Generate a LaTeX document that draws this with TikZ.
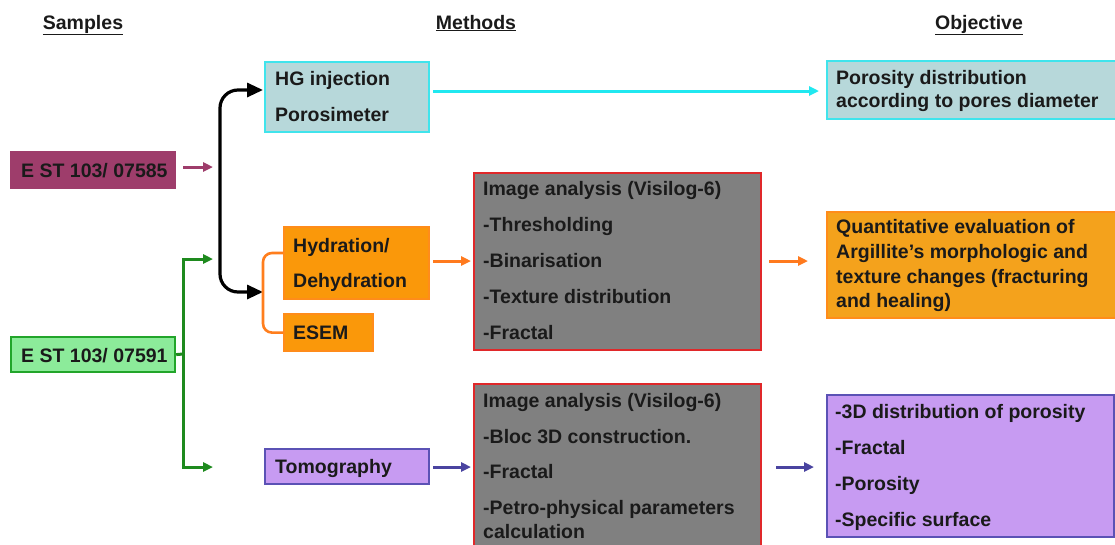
\documentclass[tikz,border=0pt]{standalone}
\usepackage{fontspec}
\setmainfont{Liberation Sans}
\usetikzlibrary{arrows.meta}
\definecolor{maroonF}{HTML}{9E3D6B}
\definecolor{greenF}{HTML}{8CEB9A}
\definecolor{greenD}{HTML}{22A52A}
\definecolor{greenA}{HTML}{1E8A1E}
\definecolor{cyanF}{HTML}{B7D8DA}
\definecolor{cyanD}{HTML}{40E4EC}
\definecolor{cyanA}{HTML}{20E8F0}
\definecolor{orangeF}{HTML}{FA980A}
\definecolor{orangeQ}{HTML}{F4A21C}
\definecolor{orangeD}{HTML}{FF8C1A}
\definecolor{orangeA}{HTML}{FF7A1E}
\definecolor{grayF}{HTML}{808080}
\definecolor{redD}{HTML}{E0282A}
\definecolor{lavF}{HTML}{C79BF2}
\definecolor{lavD}{HTML}{5B52B5}
\definecolor{blueA}{HTML}{4A44A0}
\definecolor{txtC}{HTML}{1A1A1A}
\tikzset{
  box/.style={rectangle, line width=2.2pt, anchor=north west, inner sep=0pt},
  txt/.style={anchor=base west, inner sep=0pt, text=txtC, font=\fontsize{19.5}{22}\selectfont\bfseries},
  hdr/.style={anchor=base, inner sep=0pt, text=txtC, font=\fontsize{19.5}{22}\selectfont\bfseries},
  carr/.style={line width=3pt, -{Triangle[length=10pt,width=9pt]}},
  blk/.style={line width=3.2pt, rounded corners=18pt, {Triangle[length=16pt,width=14pt]}-{Triangle[length=16pt,width=14pt]}},
}
\begin{document}
\begin{tikzpicture}[x=1pt,y=-1pt]
\useasboundingbox (0,0) rectangle (1115,544);
\clip (0,0) rectangle (1115,544);
\fill[white] (0,0) rectangle (1115,544);

% headers
\node[hdr] (hs) at (83,29) {\underline{Samples}};
\node[hdr] (hm) at (476,29) {\underline{Methods}};
\node[hdr] (ho) at (979,29) {\underline{Objective}};

% samples
\node[box, fill=maroonF, draw=maroonF, minimum width=164pt, minimum height=36pt] (est1) at (10,151) {};
\node[txt] (est1t) at (21,177) {E ST 103/ 07585};
\node[box, fill=greenF, draw=greenD, minimum width=164pt, minimum height=35pt] (est2) at (10,336) {};
\node[txt] (est2t) at (21,362) {E ST 103/ 07591};

% methods
\node[box, fill=cyanF, draw=cyanD, minimum width=164pt, minimum height=70pt] (hg) at (264,61) {};
\node[txt] (hg1) at (275,85) {HG injection};
\node[txt] (hg2) at (275,121) {Porosimeter};

\node[box, fill=orangeF, draw=orangeD, minimum width=145pt, minimum height=72pt] (hyd) at (283,226) {};
\node[txt] (hyd1) at (293,252) {Hydration/};
\node[txt] (hyd2) at (293,287) {Dehydration};
\node[box, fill=orangeF, draw=orangeD, minimum width=89pt, minimum height=37pt] (esem) at (283,313) {};
\node[txt] (esemt) at (293,339) {ESEM};

\node[box, fill=lavF, draw=lavD, minimum width=164pt, minimum height=35pt] (tomo) at (264,448) {};
\node[txt] (tomot) at (275,473) {Tomography};

\node[box, fill=grayF, draw=redD, minimum width=287pt, minimum height=177pt] (ia1) at (473,172) {};
\node[txt] (ia1a) at (483,195) {Image analysis (Visilog-6)};
\node[txt] (ia1b) at (483,231.5) {-Thresholding};
\node[txt] (ia1c) at (483,267) {-Binarisation};
\node[txt] (ia1d) at (483,303) {-Texture distribution};
\node[txt] (ia1e) at (483,339) {-Fractal};

\node[box, fill=grayF, draw=redD, minimum width=287pt, minimum height=200pt] (ia2) at (473,383) {};
\node[txt] (ia2a) at (483,407) {Image analysis (Visilog-6)};
\node[txt] (ia2b) at (483,443) {-Bloc 3D construction.};
\node[txt] (ia2c) at (483,478) {-Fractal};
\node[txt] (ia2d) at (483,514) {-Petro-physical parameters};
\node[txt] (ia2e) at (483,538) {calculation};

% objectives
\node[box, fill=cyanF, draw=cyanD, minimum width=300pt, minimum height=58pt] (obj1) at (826,60) {};
\node[txt] (obj1a) at (836,84.5) {Porosity distribution};
\node[txt] (obj1b) at (836,107) {according to pores diameter};

\node[box, fill=orangeQ, draw=orangeD, minimum width=300pt, minimum height=106pt] (obj2) at (826,211) {};
\node[txt] (obj2a) at (836,233) {Quantitative evaluation of};
\node[txt] (obj2b) at (836,258) {Argillite’s morphologic and};
\node[txt] (obj2c) at (836,283) {texture changes (fracturing};
\node[txt] (obj2d) at (836,307) {and healing)};

\node[box, fill=lavF, draw=lavD, minimum width=287pt, minimum height=142pt] (obj3) at (826,394) {};
\node[txt] (obj3a) at (835,418) {-3D distribution of porosity};
\node[txt] (obj3b) at (835,454) {-Fractal};
\node[txt] (obj3c) at (835,490) {-Porosity};
\node[txt] (obj3d) at (835,526.5) {-Specific surface};

% connector coordinates
\coordinate (mA) at (183,167);
\coordinate (mB) at (213,167);
\coordinate (hgin) at (263,90);
\coordinate (bcol) at (220,190);
\coordinate (hydin) at (263,292);
\coordinate (gj) at (183,354);
\coordinate (g1) at (213,259);
\coordinate (g2) at (213,467);
\coordinate (brT) at (283,253);
\coordinate (brM) at (263,290);
\coordinate (cA) at (433,91);
\coordinate (cB) at (819,91);
\coordinate (oA) at (433,261);
\coordinate (oB) at (471,261);
\coordinate (oC) at (769,261);
\coordinate (oD) at (808,261);
\coordinate (bA) at (433,467);
\coordinate (bB) at (471,467);
\coordinate (bC) at (776,467);
\coordinate (bD) at (814,467);

% connectors
\draw[carr, draw=maroonF] (mA) -- (mB);
\draw[blk] (hgin) -| (bcol) |- (hydin);
\draw[line width=3pt, draw=greenA] (est2.east) -- (gj);
\draw[carr, draw=greenA] (gj) |- (g1);
\draw[carr, draw=greenA] (gj) |- (g2);
\draw[line width=2.6pt, draw=orangeA!80!orangeD, rounded corners=9pt] (brT) -| (brM) |- (esem.west);
\draw[carr, draw=cyanA] (cA) -- (cB);
\draw[carr, draw=orangeA] (oA) -- (oB);
\draw[carr, draw=orangeA] (oC) -- (oD);
\draw[carr, draw=blueA] (bA) -- (bB);
\draw[carr, draw=blueA] (bC) -- (bD);
\end{tikzpicture}
\end{document}
